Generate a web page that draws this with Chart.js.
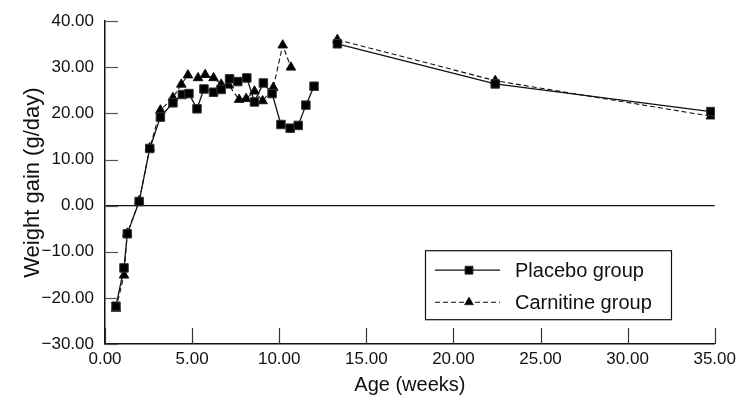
<!DOCTYPE html>
<html>
<head>
<meta charset="utf-8">
<script src="https://cdn.jsdelivr.net/npm/chart.js@4/dist/chart.umd.min.js"></script>
<style>
  html, body { margin: 0; padding: 0; background: #fff; }
  #wrap { width: 741px; height: 395px; }
</style>
</head>
<body>
<div id="wrap"><canvas id="chart" width="741" height="395"></canvas></div>
<script>
// values (null = break in the line)
const placeboWeeks = [0.63, 1.09, 1.28, 1.96, 2.57, 3.18, 3.90, 4.44, 4.82, 5.28, 5.68, 6.23, 6.67, 7.15,
  7.62, 8.14, 8.58, 9.09, 9.59, 10.10, 10.63, 11.09, 11.53, 12.00, 12.70, 13.34, 22.40, 34.78];
const placeboGain = [-21.8, -13.5, -6.1, 0.9, 12.4, 19.2, 22.3, 24.1, 24.3, 21.0, 25.3, 24.6, 25.2, 27.5,
  26.9, 27.7, 22.5, 26.6, 24.3, 17.6, 16.8, 17.4, 21.8, 25.9, null, 35.1, 26.4, 20.4];

const carnitineWeeks = [0.63, 1.09, 1.28, 1.96, 2.57, 3.18, 3.90, 4.38, 4.76, 5.34, 5.75, 6.23, 6.67, 7.11,
  7.70, 8.10, 8.58, 9.05, 9.66, 10.20, 10.67, 12.00, 13.34, 22.40, 34.78];
const carnitineGain = [-22.3, -15.1, -6.0, 1.0, 12.5, 20.7, 23.4, 26.3, 28.3, 27.7, 28.4, 27.7, 26.3, 26.1,
  23.0, 23.2, 24.8, 22.7, 25.6, 34.8, 30.0, null, 36.0, 27.1, 19.4];

const seriesNames = ['Placebo group', 'Carnitine group'];
const xTicks = [0, 5, 10, 15, 20, 25, 30, 35];
const yTicks = [-30, -20, -10, 0, 10, 20, 30, 40];

const FONT = "'Liberation Sans', Arial, Helvetica, sans-serif";

function toPoints(xs, ys) {
  return xs.map((x, i) => ({ x: x, y: ys[i] }));
}

function fmt(v) {
  const s = Math.abs(v).toFixed(2);
  return v < 0 ? '\u2212' + s : s;
}

// tick marks pointing into the plot
const inwardTicks = {
  id: 'inwardTicks',
  afterDraw(chart) {
    const ctx = chart.ctx;
    const a = chart.chartArea;
    const xs = chart.scales.x, ys = chart.scales.y;
    ctx.save();
    ctx.lineWidth = 1.2;
    ctx.strokeStyle = '#555';
    yTicks.forEach(v => {
      const p = Math.round(ys.getPixelForValue(v)) + 0.5;
      ctx.beginPath();
      ctx.moveTo(a.left, p);
      ctx.lineTo(a.left + 13, p);
      ctx.stroke();
    });
    ctx.strokeStyle = '#333';
    xTicks.forEach(v => {
      const p = Math.round(xs.getPixelForValue(v)) + 0.5;
      ctx.beginPath();
      ctx.moveTo(p, a.bottom);
      ctx.lineTo(p, a.bottom - 16);
      ctx.stroke();
    });
    ctx.restore();
  }
};

// boxed legend with line + marker samples
const boxLegend = {
  id: 'boxLegend',
  afterDraw(chart) {
    const ctx = chart.ctx;
    const a = chart.chartArea;
    const left = a.left + 320, top = a.top + 229, w = 246, h = 69;
    ctx.save();
    ctx.fillStyle = '#fff';
    ctx.fillRect(left, top, w, h);
    ctx.strokeStyle = '#111';
    ctx.lineWidth = 1.2;
    ctx.strokeRect(left + 0.5, top + 0.5, w, h);
    chart.data.datasets.forEach((ds, i) => {
      const y = top + 20 + i * 32;
      ctx.strokeStyle = ds.borderColor;
      ctx.lineWidth = ds.borderWidth;
      ctx.setLineDash(ds.borderDash || []);
      ctx.beginPath();
      ctx.moveTo(left + 10, y);
      ctx.lineTo(left + 75, y);
      ctx.stroke();
      ctx.setLineDash([]);
      ctx.fillStyle = '#000';
      ctx.strokeStyle = '#222';
      ctx.lineWidth = 1;
      Chart.helpers.drawPoint(ctx, {
        pointStyle: ds.pointStyle, radius: ds.pointRadius - 0.5, borderWidth: 1
      }, left + 44, y);
      ctx.fillStyle = '#111';
      ctx.font = '20px ' + FONT;
      ctx.textBaseline = 'middle';
      ctx.fillText(ds.label, left + 90, y + 1);
    });
    ctx.restore();
  }
};

const data = {
  datasets: [{
    label: seriesNames[0],
    data: toPoints(placeboWeeks, placeboGain),
    borderColor: '#111',
    backgroundColor: '#111',
    borderWidth: 1.3,
    pointStyle: 'rect',
    pointRadius: 6,
    pointBorderColor: '#333',
    pointBackgroundColor: '#000',
    pointBorderWidth: 1,
    tension: 0
  }, {
    label: seriesNames[1],
    data: toPoints(carnitineWeeks, carnitineGain),
    borderColor: '#111',
    backgroundColor: '#111',
    borderWidth: 1.1,
    borderDash: [5, 3],
    pointStyle: 'triangle',
    pointRadius: 5.5,
    pointBorderColor: '#111',
    pointBackgroundColor: '#000',
    pointBorderWidth: 1,
    tension: 0
  }]
};

const config = {
  type: 'line',
  data: data,
  options: {
    responsive: false,
    animation: false,
    spanGaps: false,
    layout: { padding: { top: 20, right: 24, left: 0, bottom: 0 } },
    plugins: {
      legend: { display: false },
      tooltip: { enabled: false }
    },
    scales: {
      x: {
        type: 'linear',
        min: 0,
        max: 35,
        afterFit: s => { s.height = 51; },
        afterBuildTicks: s => { s.ticks = xTicks.map(v => ({ value: v })); },
        grid: { display: false, drawTicks: false },
        border: { display: true, color: '#111', width: 1.5 },
        ticks: {
          padding: 5,
          color: '#111',
          font: { family: FONT, size: 17 },
          callback: v => fmt(v),
          maxRotation: 0
        },
        title: {
          display: true,
          text: 'Age (weeks)',
          color: '#111',
          font: { family: FONT, size: 20, lineHeight: 1 },
          padding: { top: 0, bottom: 0 }
        }
      },
      y: {
        type: 'linear',
        min: -30,
        max: 40,
        afterFit: s => { s.width = 105; },
        afterBuildTicks: s => { s.ticks = yTicks.map(v => ({ value: v })); },
        grid: {
          drawTicks: false,
          color: c => (c.tick && c.tick.value === 0) ? '#111' : 'rgba(0,0,0,0)',
          lineWidth: 1.3
        },
        border: { display: true, color: '#111', width: 1.5 },
        ticks: {
          padding: 11,
          color: '#111',
          font: { family: FONT, size: 17 },
          callback: v => fmt(v)
        },
        title: {
          display: true,
          text: 'Weight gain (g/day)',
          color: '#111',
          font: { family: FONT, size: 22, lineHeight: 1.2 },
          padding: { top: 20, bottom: 0 }
        }
      }
    }
  },
  plugins: [inwardTicks, boxLegend]
};

new Chart(document.getElementById('chart'), config);
</script>
</body>
</html>
